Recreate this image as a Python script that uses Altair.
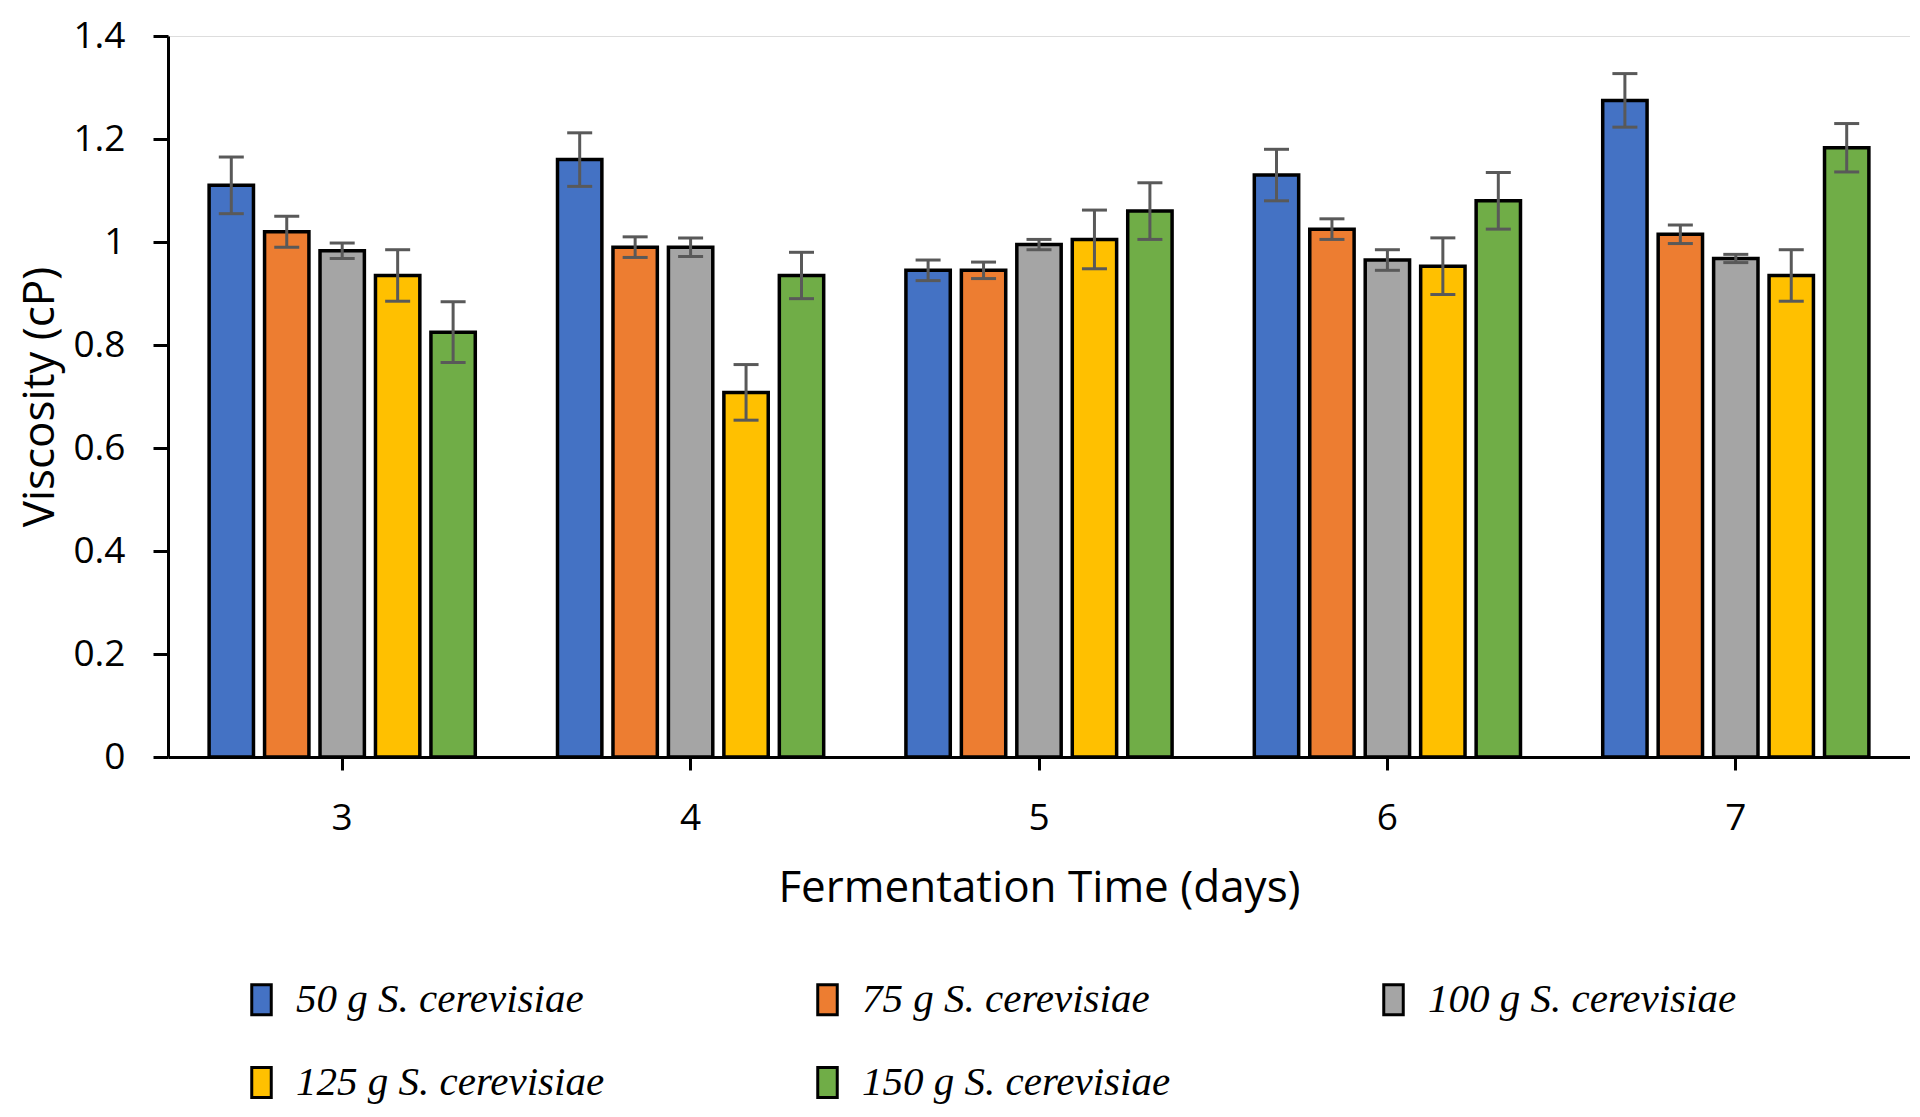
import altair as alt
import pandas as pd

days = ["3", "4", "5", "6", "7"]
series = [
    "50 g S. cerevisiae",
    "75 g S. cerevisiae",
    "100 g S. cerevisiae",
    "125 g S. cerevisiae",
    "150 g S. cerevisiae",
]
colors = ["#4472C4", "#ED7D31", "#A5A5A5", "#FFC000", "#70AD47"]

m50 = [1.11, 1.16, 0.945, 1.13, 1.275]
m75 = [1.02, 0.99, 0.945, 1.025, 1.015]
m100 = [0.983, 0.99, 0.995, 0.965, 0.968]
m125 = [0.935, 0.708, 1.005, 0.953, 0.935]
m150 = [0.825, 0.935, 1.06, 1.08, 1.183]

e50 = [0.055, 0.052, 0.02, 0.05, 0.052]
e75 = [0.03, 0.02, 0.016, 0.02, 0.018]
e100 = [0.015, 0.018, 0.01, 0.02, 0.008]
e125 = [0.05, 0.054, 0.057, 0.055, 0.05]
e150 = [0.059, 0.045, 0.055, 0.055, 0.047]

means = [m50, m75, m100, m125, m150]
errs = [e50, e75, e100, e125, e150]

rows = []
for s, mv, ev in zip(series, means, errs):
    for d, m, e in zip(days, mv, ev):
        rows.append({"day": d, "series": s, "mean": m, "lo": m - e, "hi": m + e})
df = pd.DataFrame(rows)

FONT = "Open Sans"
ERR = "#595959"

base = alt.Chart(df).encode(
    x=alt.X(
        "day:N",
        sort=days,
        scale=alt.Scale(paddingInner=0.236, paddingOuter=0.118),
        axis=alt.Axis(
            title="Fermentation Time (days)",
            labelAngle=0,
            labelFont=FONT,
            labelFontSize=37,
            labelColor="black",
            labelPadding=30,
            titleFont=FONT,
            titleFontSize=44,
            titleFontWeight="normal",
            titleColor="black",
            titlePadding=30,
            domainColor="black",
            domainWidth=3,
            tickColor="black",
            tickWidth=3,
            tickSize=13,
        ),
    ),
    xOffset=alt.XOffset(
        "series:N", sort=series, scale=alt.Scale(paddingInner=0.2, paddingOuter=0)
    ),
)

bars = base.mark_bar(stroke="black", strokeWidth=3.5).encode(
    y=alt.Y(
        "mean:Q",
        scale=alt.Scale(domain=[0, 1.4], nice=False),
        axis=alt.Axis(
            title="Viscosity (cP)",
            values=[0, 0.2, 0.4, 0.6, 0.8, 1.0, 1.2, 1.4],
            format="~g",
            grid=False,
            labelFont=FONT,
            labelFontSize=37,
            labelColor="black",
            labelPadding=28,
            titleFont=FONT,
            titleFontSize=44,
            titleFontWeight="normal",
            titleColor="black",
            titlePadding=10,
            domainColor="black",
            domainWidth=3,
            tickColor="black",
            tickWidth=3,
            tickSize=15,
        ),
    ),
    color=alt.Color(
        "series:N",
        sort=series,
        scale=alt.Scale(domain=series, range=colors),
        legend=alt.Legend(
            title=None,
            orient="none",
            legendX=73,
            legendY=943,
            direction="horizontal",
            columns=3,
            columnPadding=202,
            rowPadding=40,
            symbolType="M-0.65,-1L0.65,-1L0.65,1L-0.65,1Z",
            symbolSize=900,
            symbolStrokeColor="black",
            symbolStrokeWidth=3,
            symbolOpacity=1,
            labelFont="Liberation Serif",
            labelFontSize=41,
            labelFontStyle="italic",
            labelColor="black",
            labelOffset=14,
            labelLimit=800,
        ),
    ),
)

rules = base.mark_rule(color=ERR, strokeWidth=3).encode(
    y="lo:Q", y2="hi:Q"
)
cap_hi = base.mark_tick(color=ERR, thickness=3, size=25, opacity=1).encode(y="hi:Q")
cap_lo = base.mark_tick(color=ERR, thickness=3, size=25, opacity=1).encode(y="lo:Q")

chart = (
    alt.layer(bars, rules, cap_hi, cap_lo)
    .properties(
        width=1742,
        height=721,
        autosize=alt.AutoSizeParams(type="none"),
        padding={"left": 160, "top": 28, "right": 0, "bottom": 351},
    )
    .configure_view(stroke="transparent", strokeWidth=0)
    .configure_axis(grid=False)
    .configure(background="white")
)

chart.save("out.html", embed_options={"renderer": "svg", "actions": False})
